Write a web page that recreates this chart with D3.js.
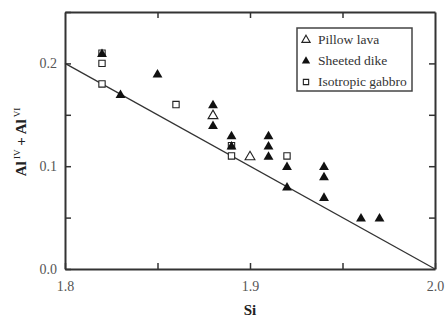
<!DOCTYPE html>
<html>
  <head>
    <meta charset="UTF-8" />
    <script src="https://d3js.org/d3.v7.min.js"></script>
    <style>
      body { margin: 0; background: #fff; }
      svg text { font-family: "Liberation Serif", "Times New Roman", Tinos, "DejaVu Serif", serif; }
    </style>
  </head>
  <body>
    <svg width="446" height="323"></svg>

    <script>
      // data
      const pillowSi = [1.88, 1.90];
      const pillowAl = [0.15, 0.11];

      const dikeSi = [1.82, 1.83, 1.85, 1.88, 1.88, 1.89, 1.89, 1.91, 1.91, 1.91, 1.92, 1.92, 1.94, 1.94, 1.94, 1.96, 1.97];
      const dikeAl = [0.21, 0.17, 0.19, 0.16, 0.14, 0.13, 0.12, 0.13, 0.12, 0.11, 0.10, 0.08, 0.10, 0.09, 0.07, 0.05, 0.05];

      const gabbroSi = [1.82, 1.82, 1.82, 1.86, 1.89, 1.89, 1.92];
      const gabbroAl = [0.21, 0.20, 0.18, 0.16, 0.12, 0.11, 0.11];

      const lineSi = [1.8, 2.0];
      const lineAl = [0.2, 0.0];

      const xTicks = [1.8, 1.9, 2.0];
      const xMinor = [1.85, 1.95];
      const yTicks = [0.0, 0.1, 0.2];
      const yMinor = [0.05, 0.15, 0.25];

      const legendNames = ["Pillow lava", "Sheeted dike", "Isotropic gabbro"];

      var svg = d3.select("svg");
      const mLeft = 65, mRight = 435, mTop = 12, mBottom = 269;

      const x = d3.scaleLinear().domain([1.8, 2.0]).range([mLeft, mRight]);
      const y = d3.scaleLinear().domain([0, 0.25]).range([mBottom, mTop]);

      const axisColor = "#333";
      const labelColor = "#555";

      // frame axes with inward ticks
      function styleAxis(g) {
        g.attr("font-family", null);
        g.select(".domain").attr("stroke", axisColor).attr("stroke-width", 2);
        g.selectAll(".tick line").attr("stroke", axisColor).attr("stroke-width", 1.5);
        g.selectAll("text")
          .attr("font-size", 14)
          .attr("fill", labelColor);
      }

      const allX = xTicks.concat(xMinor);
      const allY = yTicks.concat(yMinor);

      svg.append("g")
        .attr("transform", `translate(0,${mBottom})`)
        .call(d3.axisBottom(x).tickValues(allX).tickSizeInner(-6).tickSizeOuter(0).tickPadding(12)
          .tickFormat(d => xTicks.includes(d) ? d3.format(".1f")(d) : ""))
        .call(styleAxis);

      svg.append("g")
        .attr("transform", `translate(0,${mTop})`)
        .call(d3.axisTop(x).tickValues(allX.filter(d => d > 1.8 && d < 2.0)).tickSizeInner(-6).tickSizeOuter(0).tickFormat(""))
        .call(styleAxis);

      svg.append("g")
        .attr("transform", `translate(${mLeft},0)`)
        .call(d3.axisLeft(y).tickValues(allY).tickSizeInner(-6).tickSizeOuter(0).tickPadding(8)
          .tickFormat(d => yTicks.includes(d) ? d3.format(".1f")(d) : ""))
        .call(styleAxis);

      svg.append("g")
        .attr("transform", `translate(${mRight},0)`)
        .call(d3.axisRight(y).tickValues(allY.filter(d => d > 0 && d < 0.25)).tickSizeInner(-6).tickSizeOuter(0).tickFormat(""))
        .call(styleAxis);

      // fit line
      svg.append("line")
        .attr("x1", x(lineSi[0])).attr("y1", y(lineAl[0]))
        .attr("x2", x(lineSi[1])).attr("y2", y(lineAl[1]))
        .attr("stroke", "#333").attr("stroke-width", 1.3);

      const tri = d3.symbol().type(d3.symbolTriangle).size(42);
      const sq = d3.symbol().type(d3.symbolSquare).size(40);

      function pts(si, al) { return si.map((s, i) => ({ si: s, al: al[i] })); }

      svg.selectAll(".gab").data(pts(gabbroSi, gabbroAl)).enter().append("path")
        .attr("d", sq)
        .attr("transform", d => `translate(${x(d.si)},${y(d.al)})`)
        .attr("fill", "#fff").attr("stroke", "#222").attr("stroke-width", 1.1);

      svg.selectAll(".pil").data(pts(pillowSi, pillowAl)).enter().append("path")
        .attr("d", tri)
        .attr("transform", d => `translate(${x(d.si)},${y(d.al) + 1})`)
        .attr("fill", "#fff").attr("stroke", "#222").attr("stroke-width", 1.1);

      svg.selectAll(".dik").data(pts(dikeSi, dikeAl)).enter().append("path")
        .attr("d", tri)
        .attr("transform", d => `translate(${x(d.si)},${y(d.al) + 1})`)
        .attr("fill", "#111");

      // legend
      const lg = svg.append("g");
      lg.append("rect").attr("x", 297).attr("y", 28).attr("width", 115).attr("height", 63)
        .attr("fill", "#fff").attr("stroke", "#444").attr("stroke-width", 1.5);
      const legTri = d3.symbol().type(d3.symbolTriangle).size(30);
      const legSq = d3.symbol().type(d3.symbolSquare).size(28);
      const legendSym = [
        { sym: legTri, fill: "#fff", stroke: "#222" },
        { sym: legTri, fill: "#111", stroke: "none" },
        { sym: legSq, fill: "#fff", stroke: "#222" }
      ];
      legendNames.forEach((name, i) => {
        const yy = 39 + i * 21;
        lg.append("path")
          .attr("d", legendSym[i].sym())
          .attr("transform", `translate(306,${yy + 1})`)
          .attr("fill", legendSym[i].fill)
          .attr("stroke", legendSym[i].stroke)
          .attr("stroke-width", 1.1);
        lg.append("text")
          .attr("x", 318).attr("y", yy + 4.5)
          .attr("font-size", 13.5)
          .attr("fill", "#333")
          .text(name);
      });

      // axis titles
      svg.append("text")
        .attr("x", 250).attr("y", 315)
        .attr("text-anchor", "middle")
        .attr("font-weight", "bold")
        .attr("font-size", 15)
        .attr("fill", "#222")
        .text("Si");

      const yl = svg.append("text")
        .attr("transform", "translate(26,142) rotate(-90)")
        .attr("text-anchor", "middle")
        .attr("font-weight", "bold")
        .attr("font-size", 15)
        .attr("fill", "#222");
      yl.append("tspan").text("Al");
      yl.append("tspan").attr("font-size", 9).attr("font-weight", "normal").attr("dy", -6).text(" IV");
      yl.append("tspan").attr("dy", 6).text(" + Al");
      yl.append("tspan").attr("font-size", 9).attr("font-weight", "normal").attr("dy", -6).text(" VI");
    </script>
  </body>
</html>
